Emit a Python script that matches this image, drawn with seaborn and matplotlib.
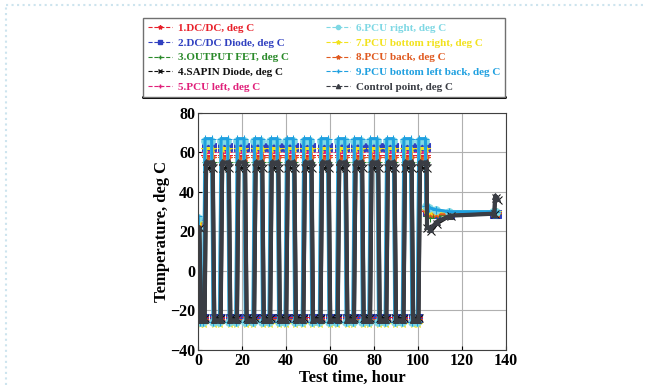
import matplotlib
matplotlib.use('Agg')
import matplotlib.pyplot as plt
from matplotlib.lines import Line2D
import seaborn as sns

# series
sensors = ['1.DC/DC, deg C', '2.DC/DC Diode, deg C', '3.OUTPUT FET, deg C',
           '4.SAPIN Diode, deg C', '5.PCU left, deg C', '6.PCU right, deg C',
           '7.PCU bottom right, deg C', '8.PCU back, deg C',
           '9.PCU bottom left back, deg C', 'Control point, deg C']
colors = ['#e8202a', '#3040c0', '#2a8a2a', '#111111', '#e0207a',
          '#7fd8e4', '#f2e21e', '#e05a20', '#1fa0e0', '#3a3d44']
markers = ['*', 's', '+', 'x', '+', 'o', '*', '*', '+', '^']
high = [58, 63, 55, 52, 60, 66, 62, 57, 67, 55]
low = [-24, -24, -25, -24, -25, -26, -27, -25, -26, -25]
start = [24, 25, 23, 22, 24, 27, 25, 24, 28, 22]
lag = [0.3, 0.4, 0.5, 0.8, 0.2, 0.0, 0.3, 0.4, 0.1, 0.6]

# peak centres of the thermal cycles, hours
peak_t = [4.6, 11.9, 19.3, 27.1, 34.4, 41.7, 49.5, 57.3, 65.1, 72.5, 79.8, 87.2, 95.0, 101.8]
first_low_t = 0.8
rise_start, rise_end = 2.2, 1.5   # ramp start / high dwell edge relative to peak

# soak phase after cycling
tail_t = [103.5, 105.0, 108.0, 114.0, 134.0, 134.5, 135.5]
tail_v = [
    [30, 29, 29, 29, 29, 29, 29],
    [30, 29, 29, 29, 29, 29, 29],
    [28, 27, 28, 29, 29, 29, 29],
    [22, 20, 24, 28, 29, 37, 36],
    [31, 30, 30, 30, 30, 30, 30],
    [33, 32, 31, 30, 30, 30, 30],
    [31, 30, 30, 30, 30, 30, 30],
    [30, 29, 29, 29, 29, 29, 29],
    [33, 32, 31, 30, 30, 30, 30],
    [23, 21, 25, 28, 29, 38, 37],
]

fig = plt.figure(figsize=(6.46, 3.85), dpi=100)
ax = fig.add_axes([0.3065, 0.091, 0.4768, 0.6156])
sns.set_style('white')

draw_order = [1, 2, 4, 0, 7, 6, 5, 8, 3, 9]
for i in draw_order:
    t = [0.0, first_low_t]
    v = [start[i], low[i]]
    for k, p in enumerate(peak_t):
        t += [p - rise_start, p - rise_end, p + rise_end]
        v += [low[i], high[i], high[i]]
        if k < len(peak_t) - 1:
            t.append(p + rise_start)
            v.append(low[i])
    t += tail_t
    v += tail_v[i]
    t = [x + lag[i] for x in t]
    lw = 3.0 if i == 9 else 2.2
    ms = 4.5 if i == 9 else 5.5
    sns.lineplot(x=t, y=v, color=colors[i], marker=markers[i], markersize=ms,
                 markeredgecolor=colors[i], linewidth=lw, ax=ax, legend=False)
    ax.lines[-1].set_solid_joinstyle('round')
    ax.lines[-1].set_solid_capstyle('round')

ax.set_xlim(0, 140)
ax.set_ylim(-40, 80)
ax.set_xticks(range(0, 141, 20))
ax.set_yticks(range(-40, 81, 20))
ax.grid(True, color='#b0b0b0', linewidth=0.8)
ax.tick_params(direction='in', length=3, labelsize=11.5, pad=2)
for lab in ax.get_xticklabels() + ax.get_yticklabels():
    lab.set_family('Liberation Serif')
    lab.set_fontweight('bold')
for s in ax.spines.values():
    s.set_color('#404040')
    s.set_linewidth(0.8)
ax.set_xlabel('Test time, hour', family='Liberation Serif', fontweight='bold',
              fontsize=12, labelpad=0.5)
ax.set_ylabel('Temperature, deg C', family='Liberation Serif', fontweight='bold',
              fontsize=12, labelpad=0)

handles = [Line2D([], [], color=colors[i], marker=markers[i], markersize=3,
                  linestyle='--', linewidth=0.8) for i in range(len(sensors))]
leg = fig.legend(handles, sensors, ncol=2, loc='lower left',
                 bbox_to_anchor=(0.221, 0.748, 0.561, 0.213),
                 bbox_transform=fig.transFigure, mode='expand',
                 prop={'family': 'Liberation Serif', 'weight': 'bold', 'size': 8},
                 handlelength=2.2, handletextpad=0.5, labelspacing=0.45,
                 borderaxespad=0, borderpad=0.45, fancybox=False, framealpha=1,
                 edgecolor='#707070')
for txt, c in zip(leg.get_texts(), colors):
    txt.set_color(c)
# heavy lower edge of the legend box
fig.add_artist(Line2D([0.221, 0.782], [0.748, 0.748], transform=fig.transFigure,
                      color='black', linewidth=2.2))

# faint dotted page border
fig.add_artist(Line2D([0.009, 1.0], [0.987, 0.987], transform=fig.transFigure,
                      color='#cde4ee', linestyle=':', linewidth=1.5))
fig.add_artist(Line2D([0.009, 0.009], [0.0, 0.987], transform=fig.transFigure,
                      color='#cde4ee', linestyle=':', linewidth=1.5))

fig.savefig('out.png', dpi=100)
